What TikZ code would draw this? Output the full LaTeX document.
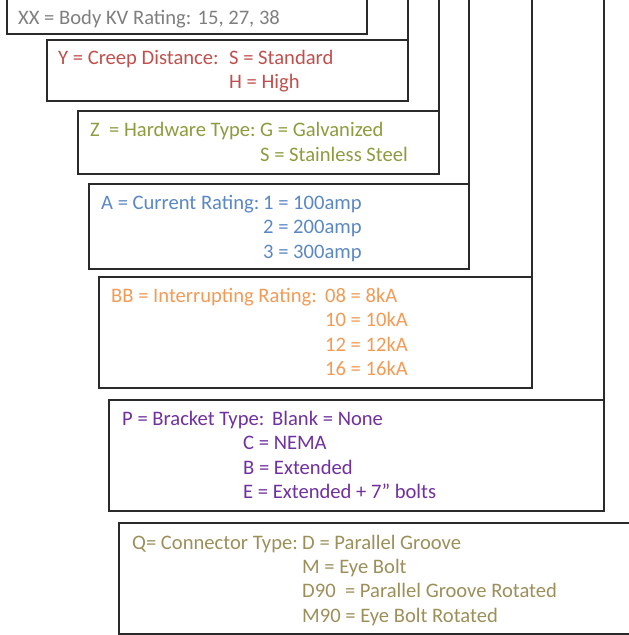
\documentclass[tikz,border=0pt]{standalone}
\usepackage{fontspec}
\setmainfont{Carlito}
\definecolor{cgray}{HTML}{7F7F7F}
\definecolor{cred}{HTML}{C0504D}
\definecolor{colive}{HTML}{8E9B3E}
\definecolor{cblue}{HTML}{5B87C5}
\definecolor{corange}{HTML}{F39A55}
\definecolor{cpurple}{HTML}{7030A0}
\definecolor{ctan}{HTML}{9C8F5A}
\definecolor{cline}{HTML}{2A2A2A}
\tikzset{
  box/.style={draw=cline, line width=1.3pt, anchor=north west, inner sep=0pt, outer sep=0pt},
  riser/.style={draw=cline, line width=1.3pt},
  txt/.style={anchor=base west, inner sep=0pt, font=\fontsize{20.6}{24}\selectfont}
}
\begin{document}
\begin{tikzpicture}[x=1pt,y=-1pt]
\useasboundingbox (0,0) rectangle (629,635);
\clip (0,0) rectangle (629,635);
% boxes
\node[box, minimum width=360pt, minimum height=36pt] (bxx) at (7,-2) {};
\node[box, minimum width=361pt, minimum height=61pt] (by) at (47,40) {};
\node[box, minimum width=361pt, minimum height=63pt] (bz) at (78,111) {};
\node[box, minimum width=380pt, minimum height=85pt] (ba) at (89,184) {};
\node[box, minimum width=433pt, minimum height=111pt] (bbb) at (99,277) {};
\node[box, minimum width=495pt, minimum height=111pt] (bp) at (109,400) {};
\node[box, minimum width=530pt, minimum height=111pt] (bq) at (119,523) {};
% risers to top
\coordinate (ty) at (408,-2);
\coordinate (tz) at (439,-2);
\coordinate (ta) at (469,-2);
\coordinate (tb) at (532,-2);
\coordinate (tp) at (604,-2);
\draw[riser] (by.north east) -- (ty);
\draw[riser] (bz.north east) -- (tz);
\draw[riser] (ba.north east) -- (ta);
\draw[riser] (bbb.north east) -- (tb);
\draw[riser] (bp.north east) -- (tp);
% texts
\node[txt, text=cgray] (t1) at (18,24) {XX = Body KV Rating: 15, 27, 38};
\node[txt, text=cred] (t2a) at (58,64) {Y = Creep Distance:};
\node[txt, text=cred] (t2b) at (229,64) {S = Standard};
\node[txt, text=cred] (t2c) at (229,88) {H = High};
\node[txt, text=colive] (t3a) at (90,136) {Z\ \ = Hardware Type:};
\node[txt, text=colive] (t3b) at (260,136) {G = Galvanized};
\node[txt, text=colive] (t3c) at (260,161) {S = Stainless Steel};
\node[txt, text=cblue] (t4a) at (101,209) {A = Current Rating:};
\node[txt, text=cblue] (t4b) at (263,209) {1 = 100amp};
\node[txt, text=cblue] (t4c) at (263,233) {2 = 200amp};
\node[txt, text=cblue] (t4d) at (263,258) {3 = 300amp};
\node[txt, text=corange] (t5a) at (111,302) {BB = Interrupting Rating:};
\node[txt, text=corange] (t5b) at (325,302) {08 = 8kA};
\node[txt, text=corange] (t5c) at (325,326) {10 = 10kA};
\node[txt, text=corange] (t5d) at (325,351) {12 = 12kA};
\node[txt, text=corange] (t5e) at (325,375) {16 = 16kA};
\node[txt, text=cpurple] (t6a) at (122,425) {P = Bracket Type:};
\node[txt, text=cpurple] (t6b) at (272,425) {Blank = None};
\node[txt, text=cpurple] (t6c) at (243,449) {C = NEMA};
\node[txt, text=cpurple] (t6d) at (243,474) {B = Extended};
\node[txt, text=cpurple] (t6e) at (243,498) {E = Extended + 7” bolts};
\node[txt, text=ctan] (t7a) at (132,549) {Q= Connector Type:};
\node[txt, text=ctan] (t7b) at (302,549) {D = Parallel Groove};
\node[txt, text=ctan] (t7c) at (302,573) {M = Eye Bolt};
\node[txt, text=ctan] (t7d) at (302,597) {D90\ \ = Parallel Groove Rotated};
\node[txt, text=ctan] (t7e) at (302,622) {M90 = Eye Bolt Rotated};
\end{tikzpicture}
\end{document}
